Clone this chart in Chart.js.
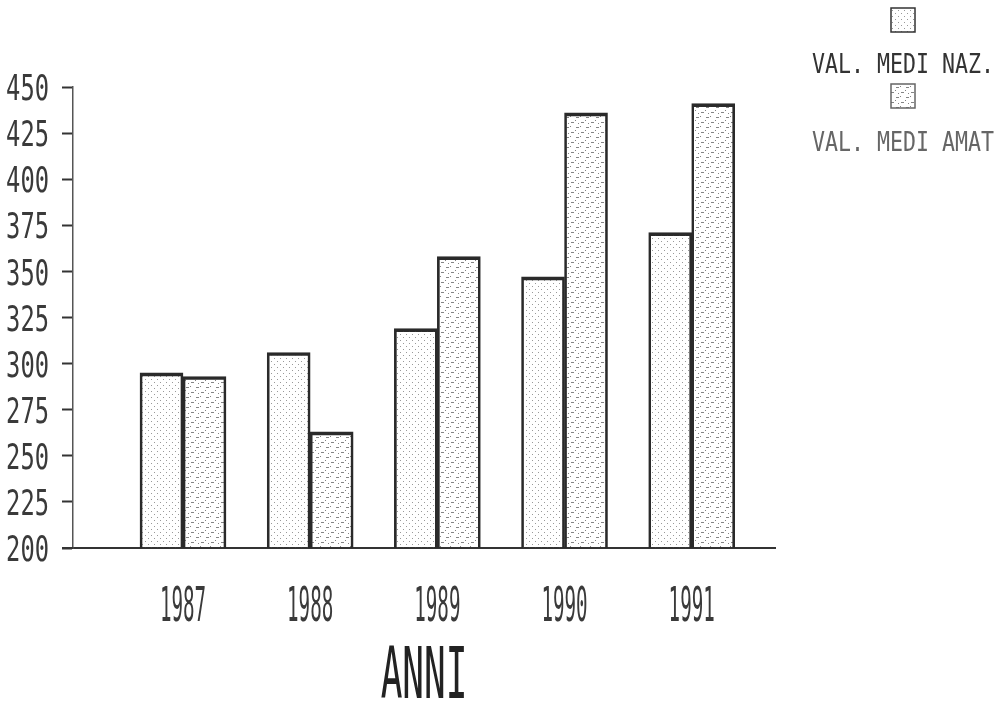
<!DOCTYPE html>
<html>
<head>
<meta charset="utf-8">
<script src="https://cdn.jsdelivr.net/npm/chart.js@4.4.1/dist/chart.umd.min.js"></script>
<style>
  html, body { margin: 0; padding: 0; background: #fff; }
  canvas { display: block; }
</style>
</head>
<body>
<canvas id="barChart" width="999" height="707"></canvas>
<script>
// data
const years = [1987, 1988, 1989, 1990, 1991];
const valNaz = [295, 306, 319, 347, 371];
const valAmat = [293, 263, 358, 436, 441];
const seriesNames = ['VAL. MEDI NAZ.', 'VAL. MEDI AMAT'];
const yTicks = [200, 225, 250, 275, 300, 325, 350, 375, 400, 425, 450];
const xTitle = 'ANNI';

// dot-matrix style fills
function makePattern(draw, size) {
  const c = document.createElement('canvas');
  c.width = size; c.height = size;
  const g = c.getContext('2d');
  draw(g);
  return g.createPattern(c, 'repeat');
}

const nazFill = makePattern(g => {
  g.fillStyle = 'rgba(70,70,70,0.55)';
  g.fillRect(1, 1, 1, 1);
  g.fillRect(4, 4, 1, 1);
}, 6);

const amatFill = makePattern(g => {
  g.fillStyle = 'rgba(50,50,50,0.6)';
  g.fillRect(1, 2, 3, 1);
  g.fillRect(6, 7, 3, 1);
  g.fillRect(5, 0, 1, 1);
  g.fillRect(0, 6, 1, 1);
  g.fillRect(8, 3, 1, 1);
}, 10);

// condensed text, like the old plotter font
function drawNarrow(ctx, text, x, y, size, sx, align, color) {
  ctx.save();
  ctx.translate(x, y);
  ctx.scale(sx, 1);
  ctx.font = size + 'px "DejaVu Sans Mono", monospace';
  ctx.textAlign = align;
  ctx.textBaseline = 'alphabetic';
  ctx.fillStyle = color;
  ctx.fillText(text, 0, size * 0.365);
  ctx.restore();
}

const textPlugin = {
  id: 'plotterText',
  afterDraw(chart) {
    const ctx = chart.ctx;
    const xs = chart.scales.x;
    const ys = chart.scales.y;
    const area = chart.chartArea;

    // baseline runs a bit past the y axis
    ctx.save();
    ctx.strokeStyle = '#333';
    ctx.lineWidth = 2;
    ctx.beginPath();
    ctx.moveTo(62, area.bottom);
    ctx.lineTo(area.left, area.bottom);
    ctx.stroke();
    ctx.restore();

    yTicks.forEach(v => {
      drawNarrow(ctx, String(v), 49, ys.getPixelForValue(v), 36, 0.66, 'right', '#3a3a3a');
    });
    years.forEach(y => {
      drawNarrow(ctx, String(y), xs.getPixelForValue(y), 603, 48, 0.4, 'center', '#3a3a3a');
    });
    // axis title (centred on the axis)
    const mid = (area.left + area.right) / 2;
    drawNarrow(ctx, xTitle, mid, 672, 72, 0.5, 'center', '#222');

    // legend: box above its label
    const fills = [nazFill, amatFill];
    const tones = ['#333', '#666'];
    const legendX = 903;
    [[20, 63], [96, 141]].forEach(([boxY, textY], i) => {
      ctx.save();
      ctx.fillStyle = fills[i];
      ctx.fillRect(legendX - 12, boxY - 12, 24, 24);
      ctx.strokeStyle = tones[i];
      ctx.lineWidth = 1.5;
      ctx.strokeRect(legendX - 12, boxY - 12, 24, 24);
      ctx.restore();
      drawNarrow(ctx, chart.data.datasets[i].label, legendX, textY, 27, 0.8, 'center', tones[i]);
    });
  }
};

const ctx = document.getElementById('barChart').getContext('2d');

const chartData = {
  datasets: [
    {
      label: seriesNames[0],
      data: years.map((y, i) => ({ x: y, y: valNaz[i] })),
      backgroundColor: nazFill,
      borderColor: '#2a2a2a',
      borderWidth: { top: 3, left: 2, right: 2, bottom: 0 },
      borderSkipped: false
    },
    {
      label: seriesNames[1],
      data: years.map((y, i) => ({ x: y, y: valAmat[i] })),
      backgroundColor: amatFill,
      borderColor: '#2a2a2a',
      borderWidth: { top: 3, left: 2, right: 2, bottom: 0 },
      borderSkipped: false
    }
  ]
};

const myChart = new Chart(ctx, {
  type: 'bar',
  data: chartData,
  options: {
    responsive: false,
    animation: false,
    barThickness: 43,
    layout: { padding: { top: 87, right: 224, left: 0, bottom: 0 } },
    scales: {
      x: {
        type: 'linear',
        offset: false,
        min: 1986.135,
        max: 1991.655,
        ticks: { display: false },
        grid: { display: false, offset: false },
        border: { display: true, color: '#333', width: 2 },
        afterFit: s => { s.height = 159; }
      },
      y: {
        min: 200,
        max: 450,
        afterBuildTicks: s => { s.ticks = yTicks.map(v => ({ value: v })); },
        ticks: { display: false },
        grid: { drawOnChartArea: false, drawTicks: true, tickLength: 11, tickWidth: 2, tickColor: '#333' },
        border: { display: true, color: '#555', width: 1.5, dash: [2, 2] },
        afterFit: s => { s.width = 73; }
      }
    },
    plugins: {
      legend: { display: false },
      tooltip: { enabled: false }
    }
  },
  plugins: [textPlugin]
});
</script>
</body>
</html>
